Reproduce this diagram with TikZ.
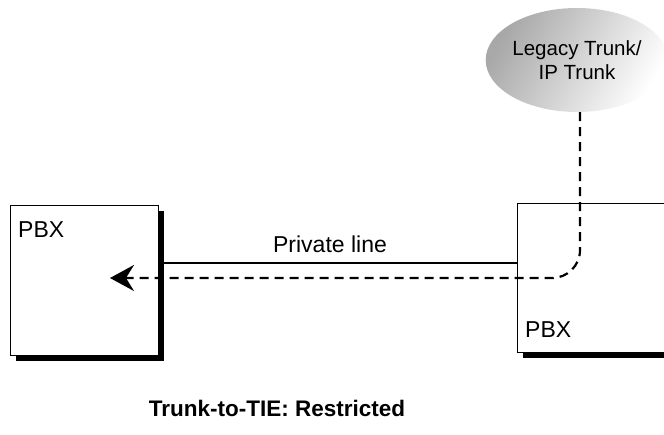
\documentclass[tikz,border=0pt]{standalone}
\usepackage{fontspec}
\setmainfont{Liberation Sans}
\usepackage{tikz}
\usetikzlibrary{shapes.geometric, arrows.meta, positioning, shadows}
\definecolor{trunkgray}{HTML}{A8A8A8}

\begin{document}
\begin{tikzpicture}[x=1pt, y=-1pt,
    pbx/.style={rectangle, draw, line width=0.8pt, fill=white, inner sep=0pt,
        drop shadow={shadow xshift=6pt, shadow yshift=-6pt, fill=black, opacity=1}},
    cloud/.style={ellipse, left color=trunkgray, right color=white, shading angle=60,
        minimum width=175pt, minimum height=104pt, align=center, inner sep=0pt,
        font=\fontsize{20.5}{24}\selectfont},
    label/.style={inner sep=0pt, font=\fontsize{23}{27}\selectfont},
    line/.style={line width=1.6pt},
    tiearrow/.style={line width=2.2pt, dash pattern=on 9pt off 6pt, rounded corners=28pt,
        -{Stealth[length=24pt, width=26pt, inset=8pt]}}]

    \useasboundingbox (0,0) rectangle (664,434);

    \node (lpbx) [pbx, minimum width=148pt, minimum height=150pt] at (84,280) {};
    \node (rpbx) [pbx, minimum width=163pt, minimum height=149pt] at (598.5,277.5) {};
    \node (trunk) [cloud] at (577,60) {Legacy Trunk/\\IP Trunk};

    \node (lname) [label, anchor=base west] at (18,237) {PBX};
    \node (rname) [label, anchor=base west] at (525,337) {PBX};
    \node (priv) [label, anchor=base] at (330,252) {Private line};
    \node (title) [label, anchor=base, font=\fontsize{22.5}{27}\selectfont\bfseries] at (277,416) {Trunk-to-TIE: Restricted};

    \coordinate (tip) at (110,278);

    \draw [line] (lpbx.east |- 0,263) -- (rpbx.west |- 0,263);
    \draw [tiearrow] ([xshift=3pt]trunk.south) |- (tip);
\end{tikzpicture}
\end{document}
